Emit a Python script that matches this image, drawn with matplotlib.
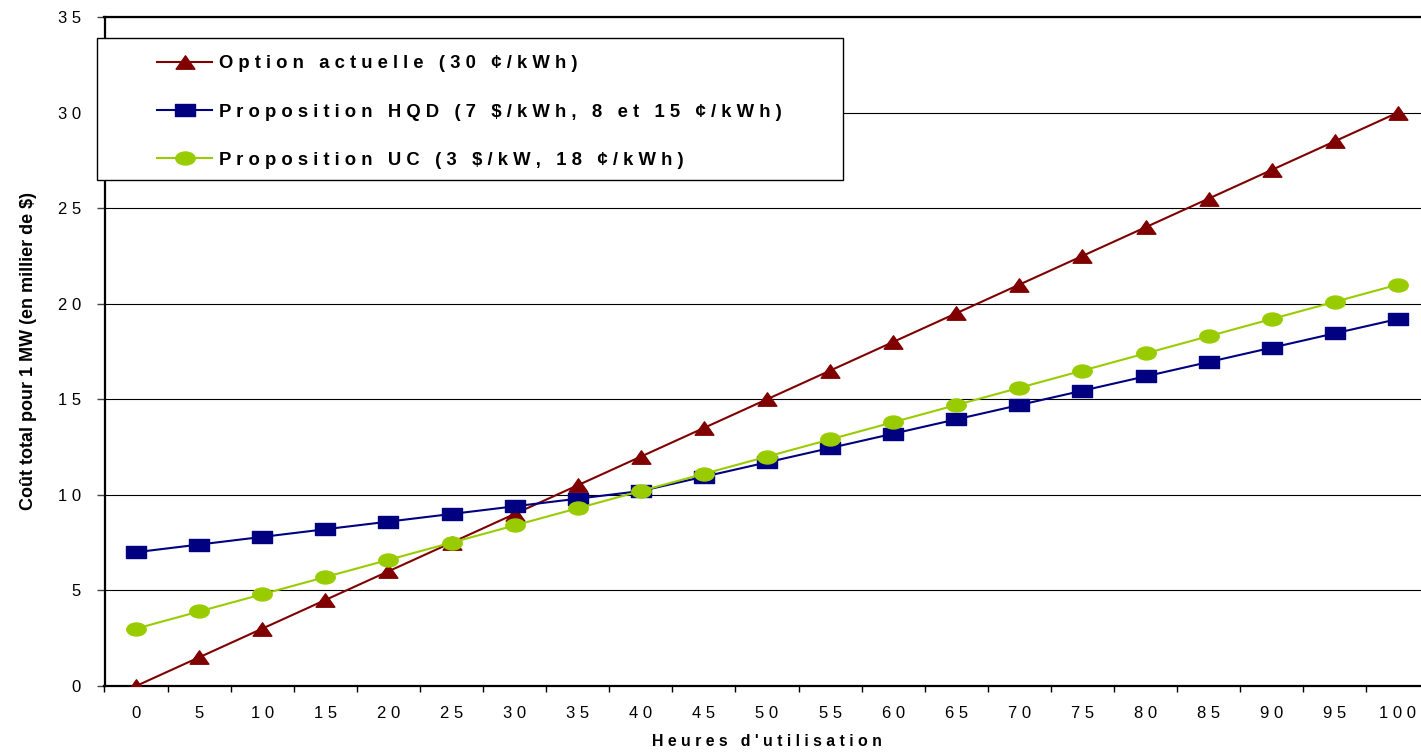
import numpy as np
import matplotlib
matplotlib.use('Agg')
import matplotlib.pyplot as plt
from matplotlib.path import Path
from matplotlib.patches import Rectangle
from matplotlib.transforms import Affine2D

plt.rcParams['font.family'] = ['Liberation Sans', 'DejaVu Sans']

hours = [0, 5, 10, 15, 20, 25, 30, 35, 40, 45, 50,
         55, 60, 65, 70, 75, 80, 85, 90, 95, 100]
actuelle = [0, 1.5, 3, 4.5, 6, 7.5, 9, 10.5, 12, 13.5, 15,
            16.5, 18, 19.5, 21, 22.5, 24, 25.5, 27, 28.5, 30]
hqd = [7, 7.4, 7.8, 8.2, 8.6, 9, 9.4, 9.8, 10.2, 10.95, 11.7,
       12.45, 13.2, 13.95, 14.7, 15.45, 16.2, 16.95, 17.7, 18.45, 19.2]
uc = [3, 3.9, 4.8, 5.7, 6.6, 7.5, 8.4, 9.3, 10.2, 11.1, 12,
      12.9, 13.8, 14.7, 15.6, 16.5, 17.4, 18.3, 19.2, 20.1, 21]
yticks = [0, 5, 10, 15, 20, 25, 30, 35]

labels = ['Option actuelle (30 ¢/kWh)',
          'Proposition HQD (7 $/kWh, 8 et 15 ¢/kWh)',
          'Proposition UC (3 $/kW, 18 ¢/kWh)']


def spaced(s):
    # the original chart renders text letter-spaced
    return ' '.join(s)


# markers stretched horizontally like in the original
tri = Path([(-0.7, -0.5), (0.7, -0.5), (0, 0.5), (-0.7, -0.5)],
           [Path.MOVETO, Path.LINETO, Path.LINETO, Path.CLOSEPOLY])
sq = Path([(-0.75, -0.5), (0.75, -0.5), (0.75, 0.5), (-0.75, 0.5), (-0.75, -0.5)],
          [Path.MOVETO, Path.LINETO, Path.LINETO, Path.LINETO, Path.CLOSEPOLY])
circ = Path.unit_circle().transformed(Affine2D().scale(0.75, 0.5))

fig = plt.figure(figsize=(14.21, 7.54), dpi=100)
ax = fig.add_axes([104.5 / 1421, 68 / 754, 1325 / 1421, 669 / 754])

x = np.arange(len(hours))
ax.plot(x, actuelle, color='#800000', lw=1.5, marker=tri, ms=13.5, label=spaced(labels[0]), zorder=3)
ax.plot(x, hqd, color='#000080', lw=1.5, marker=sq, ms=14, label=spaced(labels[1]), zorder=3)
ax.plot(x, uc, color='#99CC00', lw=1.5, marker=circ, ms=14, label=spaced(labels[2]), zorder=3)

ax.set_xlim(-0.5, len(hours) - 0.5)
ax.set_ylim(0, 35)
ax.set_xticks(x)
ax.set_xticklabels([spaced(str(h)) for h in hours], fontsize=12)
ax.set_xticks(np.arange(len(hours) + 1) - 0.5, minor=True)
ax.tick_params(axis='x', which='major', length=0, pad=14.5)
ax.tick_params(axis='x', which='minor', length=4.5, width=1, color='black')
ax.set_yticks(yticks)
ax.set_yticklabels([spaced(str(v)) for v in yticks], fontsize=12)
ax.tick_params(axis='y', length=6, width=1, pad=11, color='#444444')

ax.grid(True, axis='y', color='black', lw=0.8)
ax.set_axisbelow(True)
for s in ax.spines.values():
    s.set_linewidth(1.6)
    s.set_color('black')

ax.set_xlabel(spaced("Heures d'utilisation"), fontsize=11.4, fontweight='bold')
ax.xaxis.set_label_coords(0.5, -0.072)
ax.set_ylabel('Coût total pour 1 MW (en millier de $)', fontsize=13, fontweight='bold')
ax.yaxis.set_label_coords(-0.051, 0.5)

box = Rectangle((97 / 1421, 1 - 180 / 754), 746 / 1421, 142 / 754,
                transform=fig.transFigure, facecolor='white', edgecolor='black',
                lw=1, zorder=4, clip_on=False)
ax.add_patch(box)
leg = ax.legend(loc='upper left', bbox_to_anchor=(157 / 1421, 1 - 55.5 / 754),
                bbox_transform=fig.transFigure, frameon=False, borderpad=0,
                borderaxespad=0, handlelength=3.0, handletextpad=0.33,
                labelspacing=1.68, prop={'size': 13.3, 'weight': 'bold'})
leg.set_zorder(5)

fig.savefig('out.png', dpi=100)
